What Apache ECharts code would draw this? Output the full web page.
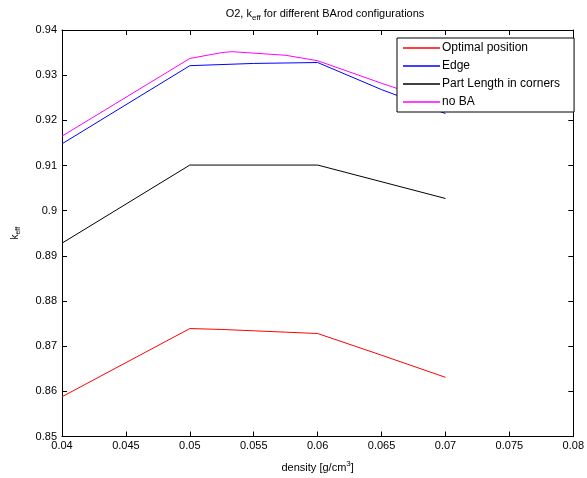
<!DOCTYPE html>
<html><head><meta charset="utf-8">
<script src="https://cdn.jsdelivr.net/npm/echarts@6/dist/echarts.min.js"></script>
<style>html,body{margin:0;padding:0;background:#fff}#c{width:587px;height:478px}</style>
</head><body><div id="c"></div>
<script>
const seriesNames = ['Optimal position', 'Edge', 'Part Length in corners', 'no BA'];
const optimalX = [0.04, 0.05, 0.0525, 0.055, 0.0575, 0.06, 0.065, 0.07];
const optimalY = [0.8588, 0.8739, 0.8737, 0.8734, 0.8731, 0.8728, 0.8680, 0.8631];
const edgeX = [0.04, 0.05, 0.055, 0.06, 0.065, 0.07];
const edgeY = [0.9148, 0.9321, 0.9326, 0.9328, 0.9268, 0.9215];
const partX = [0.04, 0.05, 0.06, 0.07];
const partY = [0.8928, 0.9101, 0.9101, 0.9027];
const noBaX = [0.04, 0.05, 0.0525, 0.0533, 0.0575, 0.06, 0.065, 0.07];
const noBaY = [0.9165, 0.9337, 0.9350, 0.9352, 0.9344, 0.9332, 0.9282, 0.9235];
const xTicks = [0.04, 0.045, 0.05, 0.055, 0.06, 0.065, 0.07, 0.075, 0.08];
const yTicks = [0.85, 0.86, 0.87, 0.88, 0.89, 0.9, 0.91, 0.92, 0.93, 0.94];
const colors = ['#ff0000', '#0000ff', '#000000', '#ff00ff'];

const pairs = (xs, ys) => xs.map((x, i) => [x, ys[i]]);
const font = 'Liberation Sans, Arial, sans-serif';
const chart = echarts.init(document.getElementById('c'));
const axisCommon = {
  axisLine: {show: true, lineStyle: {color: '#000', width: 1}},
  axisTick: {show: true, inside: true, length: 5, lineStyle: {color: '#000'}},
  splitLine: {show: false}
};
chart.setOption({
  animation: false,
  title: {
    text: 'O2, k{sub|eff} for different BArod configurations',
    left: 320, top: 1, textAlign: 'center',
    textStyle: {fontFamily: font, fontSize: 11, fontWeight: 'normal', color: '#000',
      rich: {sub: {fontSize: 8, padding: [8, 0, 0, 0], fontFamily: font, color: '#000'}}}
  },
  grid: {left: 62, right: 9, top: 30, bottom: 40, containLabel: false},
  legend: {
    orient: 'vertical', left: 397, top: 38,
    data: seriesNames,
    icon: 'rect', itemWidth: 37, itemHeight: 1.5, itemGap: 6,
    padding: [4, 14, 4, 6],
    backgroundColor: '#fff', borderColor: '#000', borderWidth: 1,
    textStyle: {fontFamily: font, fontSize: 12, color: '#000', padding: [0, 0, 0, -3]}
  },
  xAxis: [
    Object.assign({type: 'value', min: 0.04, max: 0.08, interval: 0.005, position: 'bottom',
      name: 'density [g/cm{sup|3}]', nameLocation: 'middle', nameGap: 23,
      nameTextStyle: {fontFamily: font, fontSize: 11, color: '#000',
        rich: {sup: {fontSize: 8, padding: [0, 0, 8, 0], fontFamily: font, color: '#000'}}},
      axisLabel: {fontFamily: font, fontSize: 11, color: '#000', margin: 4,
        formatter: v => xTicks.find(t => Math.abs(t - v) < 1e-9) !== undefined ? String(+v.toFixed(3)) : ''}
    }, axisCommon),
    Object.assign({type: 'value', min: 0.04, max: 0.08, interval: 0.005, position: 'top',
      axisLabel: {show: false}}, axisCommon)
  ],
  yAxis: [
    Object.assign({type: 'value', min: 0.85, max: 0.94, interval: 0.01, position: 'left',
      name: 'k{sub|eff}', nameLocation: 'middle', nameGap: 40, nameRotate: 90,
      nameTextStyle: {fontFamily: font, fontSize: 10, color: '#000',
        rich: {sub: {fontSize: 7, padding: [6, 0, 0, 0], fontFamily: font, color: '#000'}}},
      axisLabel: {fontFamily: font, fontSize: 11, color: '#000', margin: 5,
        formatter: v => String(+v.toFixed(2))}
    }, axisCommon),
    Object.assign({type: 'value', min: 0.85, max: 0.94, interval: 0.01, position: 'right',
      axisLabel: {show: false}}, axisCommon)
  ],
  series: [
    {name: seriesNames[0], data: pairs(optimalX, optimalY)},
    {name: seriesNames[1], data: pairs(edgeX, edgeY)},
    {name: seriesNames[2], data: pairs(partX, partY)},
    {name: seriesNames[3], data: pairs(noBaX, noBaY)}
  ].map((s, i) => Object.assign(s, {
    type: 'line', symbol: 'none', showSymbol: false, xAxisIndex: 0, yAxisIndex: 0,
    color: colors[i], lineStyle: {color: colors[i], width: 1}
  }))
});
</script></body></html>
